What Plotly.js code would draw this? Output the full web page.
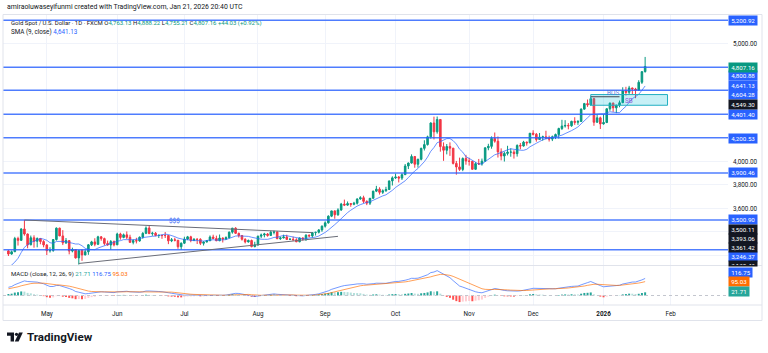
<!DOCTYPE html>
<html>
<head>
<meta charset="utf-8">
<script src="https://cdn.plot.ly/plotly-3.0.1.min.js"></script>
<style>
  html, body { margin: 0; padding: 0; background: #ffffff; }
  #chart { width: 768px; height: 353px; }
</style>
</head>
<body>
<div id="chart"></div>
<script>
// ---------------- data ----------------
const symbolName = 'Gold Spot / U.S. Dollar · 1D · FXCM';
const headerText = 'amiraoluwaseyifunmi created with TradingView.com, Jan 21, 2026 20:40 UTC';
const firstSession = '2025-04-14';
const calendarEnd = '2026-02-27';
const closedDays = ['2025-04-18', '2025-12-25', '2026-01-01'];
const monthLabels = ['May', 'Jun', 'Jul', 'Aug', 'Sep', 'Oct', 'Nov', 'Dec', '2026', 'Feb'];
const priceTicks = [3200, 3400, 3600, 3800, 4000, 4200, 4400, 4600, 4800, 5000, 5200];
const priceTickShown = [3600, 3800, 4000, 5000];

// closes before the first visible session, used to warm up SMA / MACD averages
const priorClose = [
  2658, 2640, 2636, 2649, 2662, 2670, 2690, 2663, 2677, 2696, 2715, 2702, 2708, 2745, 2755, 2755, 2771, 2740, 2763, 2760, 2794, 2798,
  2815, 2842, 2866, 2856, 2861, 2907, 2898, 2904, 2928, 2882, 2898, 2935, 2933, 2939, 2936, 2951, 2914, 2916, 2876, 2858,
  2893, 2918, 2920, 2911, 2910, 2889, 2916, 2934, 2989, 2984, 3001, 3035, 3048, 3044, 3023, 3011, 3020, 3019, 3057, 3085, 3124,
  3113, 3134, 3114, 3037, 2982, 2982, 3082, 3175, 3237
];

// daily OHLC, one row per month (Apr 14 2025 .. Jan 21 2026)
const open = [
  3237, 3211, 3230, 3343, 3327, 3424, 3381, 3289, 3349, 3319, 3343, 3317,
  3288, 3239, 3240, 3334, 3431, 3365, 3306, 3325, 3236, 3249, 3178, 3240, 3203, 3230, 3289, 3314, 3294, 3357, 3342, 3301, 3288, 3317,
  3289, 3381, 3352, 3374, 3353, 3310, 3325, 3322, 3354, 3387, 3432, 3384, 3388, 3369, 3370, 3368, 3368, 3323, 3332, 3328, 3273,
  3303, 3338, 3357, 3326, 3337, 3336, 3302, 3313, 3324, 3355, 3343, 3324, 3347, 3339, 3350, 3397, 3431, 3387, 3368, 3336, 3314, 3326, 3274,
  3289, 3363, 3373, 3381, 3369, 3397, 3398, 3341, 3348, 3356, 3335, 3336, 3332, 3315, 3348, 3339, 3371, 3365, 3393, 3396, 3416,
  3448, 3476, 3533, 3578, 3545, 3586, 3636, 3627, 3640, 3634, 3643, 3679, 3690, 3659, 3644, 3685, 3746, 3763, 3736, 3749, 3760, 3833,
  3859, 3866, 3857, 3886, 3960, 3985, 4041, 3975, 4017, 4110, 4142, 4208, 4326, 4251, 4356, 4125, 4094, 4126, 4112, 3982, 3952, 3931, 4024,
  4002, 4000, 3932, 3980, 3977, 4001, 4115, 4127, 4195, 4171, 4080, 4045, 4067, 4078, 4078, 4065, 4135, 4130, 4163, 4157,
  4239, 4230, 4185, 4206, 4208, 4197, 4189, 4209, 4228, 4279, 4300, 4305, 4302, 4340, 4332, 4339, 4444, 4491, 4480, 4533, 4332, 4370,
  4318, 4330, 4447, 4495, 4455, 4478.43, 4498.61, 4598, 4587, 4624, 4615, 4604.96, 4672.31, 4763.13
];
const high = [
  3245, 3240, 3357, 3358, 3430, 3500.11, 3386, 3368, 3370, 3352, 3345, 3329,
  3294, 3269, 3337, 3437, 3435, 3414, 3347, 3326, 3265, 3253, 3241, 3252, 3250, 3296, 3323, 3345, 3366, 3364, 3350, 3325, 3330, 3326,
  3392, 3392, 3385, 3403, 3375, 3336, 3349, 3360, 3397, 3446, 3451, 3400, 3398, 3376, 3375, 3398, 3369, 3347, 3350, 3330, 3309,
  3358, 3365, 3366, 3345, 3342, 3345, 3318, 3330, 3369, 3375, 3367, 3377, 3352, 3361, 3402, 3433, 3439, 3393, 3373, 3345, 3334, 3334, 3315,
  3366, 3385, 3391, 3390, 3409, 3410, 3405, 3358, 3375, 3375, 3348, 3358, 3345, 3351, 3351, 3379, 3377, 3394, 3399, 3423, 3454,
  3489, 3540, 3579, 3582, 3600, 3646, 3674, 3658, 3645, 3655, 3685, 3703, 3707, 3668, 3688, 3749, 3791, 3779, 3761, 3783, 3835, 3872,
  3895, 3875, 3898, 3977, 3990, 4059, 4045, 4022, 4116, 4179, 4218, 4332, 4380, 4381, 4360, 4161, 4147, 4161, 4113, 4003, 4031, 4033, 4055,
  4030, 4003, 3992, 4020, 4023, 4117, 4149, 4212, 4245, 4211, 4110, 4082, 4132, 4110, 4095, 4144, 4156, 4174, 4168, 4240,
  4264, 4241, 4241, 4218, 4260, 4218, 4219, 4236, 4286, 4353, 4350, 4325, 4345, 4375, 4350, 4450, 4497, 4526, 4549.30, 4540, 4402, 4380,
  4402, 4450, 4500, 4500, 4480, 4517, 4630, 4634, 4642, 4627, 4625, 4690, 4766, 4888.22
];
const low = [
  3194, 3205, 3229, 3283, 3325, 3367, 3260, 3286, 3265, 3268, 3294, 3268,
  3202, 3223, 3230, 3325, 3363, 3287, 3296, 3208, 3225, 3172, 3121, 3153, 3200, 3204, 3279, 3277, 3287, 3324, 3285, 3281, 3245, 3276,
  3287, 3333, 3345, 3338, 3306, 3293, 3301, 3316, 3341, 3380, 3382, 3366, 3362, 3347, 3340, 3347, 3295, 3312, 3318, 3255, 3247,
  3296, 3329, 3311, 3322, 3296, 3287, 3283, 3310, 3321, 3341, 3320, 3320, 3309, 3331, 3343, 3384, 3381, 3351, 3325, 3301, 3308, 3268, 3268,
  3281, 3346, 3353, 3358, 3365, 3378, 3338, 3331, 3343, 3331, 3330, 3323, 3312, 3311, 3325, 3322, 3352, 3351, 3368, 3386, 3400,
  3436, 3470, 3525, 3511, 3536, 3578, 3619, 3621, 3613, 3626, 3632, 3673, 3645, 3627, 3628, 3684, 3738, 3717, 3722, 3741, 3759, 3794,
  3850, 3820, 3841, 3884, 3934, 3980, 3945, 3946, 4008, 4092, 4134, 4193, 4186, 4235, 4082, 4004, 4059, 4046, 3973, 3886, 3918, 3916, 3971,
  3963, 3928, 3929, 3970, 3963, 3996, 4094, 4107, 4158, 4032, 4008, 3998, 4050, 4039, 4023, 4040, 4102, 4125, 4133, 4154,
  4220, 4167, 4184, 4175, 4192, 4168, 4172, 4189, 4194, 4266, 4287, 4272, 4294, 4310, 4310, 4338, 4440, 4463, 4474, 4302, 4330, 4275,
  4312, 4325, 4430, 4421, 4410, 4460, 4495, 4560, 4570, 4572, 4537, 4600, 4658, 4755.21
];
const close = [
  3211, 3230, 3343, 3327, 3424, 3381, 3289, 3349, 3319, 3343, 3317, 3288,
  3239, 3240, 3334, 3431, 3365, 3306, 3325, 3236, 3249, 3178, 3240, 3203, 3230, 3289, 3314, 3294, 3357, 3342, 3301, 3288, 3317, 3289,
  3381, 3352, 3374, 3353, 3310, 3325, 3322, 3354, 3387, 3432, 3384, 3388, 3369, 3370, 3368, 3368, 3323, 3332, 3328, 3273, 3303,
  3338, 3357, 3326, 3337, 3336, 3302, 3313, 3324, 3355, 3343, 3324, 3347, 3339, 3350, 3397, 3431, 3387, 3368, 3336, 3314, 3326, 3274, 3289,
  3363, 3373, 3381, 3369, 3397, 3398, 3341, 3348, 3356, 3335, 3336, 3332, 3315, 3348, 3339, 3371, 3365, 3393, 3396, 3416, 3448,
  3476, 3533, 3578, 3545, 3586, 3636, 3627, 3640, 3634, 3643, 3679, 3690, 3659, 3644, 3685, 3746, 3763, 3736, 3749, 3760, 3833, 3859,
  3866, 3857, 3886, 3960, 3985, 4041, 3975, 4017, 4110, 4142, 4208, 4326, 4251, 4356, 4125, 4094, 4126, 4112, 3982, 3952, 3931, 4024, 4002,
  4000, 3932, 3980, 3977, 4001, 4115, 4127, 4195, 4171, 4080, 4045, 4067, 4078, 4078, 4065, 4135, 4130, 4163, 4157, 4239,
  4230, 4185, 4206, 4208, 4197, 4189, 4209, 4228, 4279, 4300, 4305, 4302, 4340, 4332, 4339, 4444, 4491, 4480, 4533, 4332, 4370, 4318,
  4330, 4447, 4495, 4455, 4478.43, 4498.61, 4598, 4587, 4624, 4615, 4604.96, 4672.31, 4763.13, 4807.16
];

// drawn levels and annotations
const levels = [5200.92, 4800.88, 4604.28, 4401.40, 4200.53, 3900.46, 3500.90, 3246.37];
const upperTrendDates = ['2025-04-22', '2025-08-26'];
const upperTrendPrices = [3500.11, 3393.06];
const lowerTrendDates = ['2025-05-15', '2025-09-05'];
const lowerTrendPrices = [3130.43, 3361.42];
const bosDates = ['2025-12-26', '2026-01-09'];
const bosPrice = 4549.30;
const zoneDates = ['2025-12-26', '2026-01-30'];
const zonePrices = [4477, 4568];
const chartNotes = [
  { text: '$$$', date: '2025-06-26', price: 3492, color: '#3f6cf2' },
  { text: 'BOS', date: '2026-01-07', price: 4584, color: '#5a78d8' },
  { text: 'SB',  date: '2026-01-14', price: 4513, color: '#8d55d6' }
];

// ---------------- calendar ----------------
function sessions(start, end, skip) {
  const out = [];
  const d = new Date(start + 'T00:00:00Z');
  const e = new Date(end + 'T00:00:00Z');
  while (d <= e) {
    const wd = d.getUTCDay();
    const s = d.toISOString().slice(0, 10);
    if (wd !== 0 && wd !== 6 && !skip.includes(s)) out.push(s);
    d.setUTCDate(d.getUTCDate() + 1);
  }
  return out;
}
const calendar = sessions(firstSession, calendarEnd, closedDays);
const N = close.length;
const idx = calendar.slice(0, N).map((_, i) => i);
const at = date => calendar.indexOf(date);

// month ticks: first session of each new month
const monthTicks = [];
for (let i = 1; i < calendar.length; i++) {
  if (calendar[i].slice(5, 7) !== calendar[i - 1].slice(5, 7)) monthTicks.push(i);
}
const tickIdx = monthTicks.slice(0, monthLabels.length);
const tickText = monthLabels.map(t => t === '2026' ? '<b>2026</b>' : t);

// ---------------- indicators ----------------
const allClose = priorClose.concat(close);
const off = priorClose.length;
function ema(src, n) {
  const k = 2 / (n + 1);
  const out = [];
  let e = src[0];
  for (let i = 0; i < src.length; i++) {
    e = i === 0 ? src[0] : src[i] * k + e * (1 - k);
    out.push(e);
  }
  return out;
}
const sma9 = idx.map(i => {
  const j = i + off;
  let s = 0;
  for (let k = j - 8; k <= j; k++) s += allClose[k];
  return s / 9;
});
const e12 = ema(allClose, 12), e26 = ema(allClose, 26);
const macdAll = allClose.map((_, i) => e12[i] - e26[i]);
const sigAll = ema(macdAll, 9);
const macd = macdAll.slice(off);
const signal = sigAll.slice(off);
const histAll = macdAll.map((m, i) => m - sigAll[i]);
const hist = histAll.slice(off);
const histColor = hist.map((h, i) => {
  const prev = histAll[i + off - 1];
  if (h >= 0) return prev < h ? '#26a69a' : '#b2dfdb';
  return prev < h ? '#ffcdd2' : '#ff5252';
});

// ---------------- layout helpers ----------------
const FONT = 'Roboto, "Liberation Sans", sans-serif';
const INK = '#131722';
const L = 3, R = 728, T = 14, B = 305;
const PX = x => (x - L) / (R - L);
const PY = y => (B - y) / (B - T);
const fmt = v => v.toLocaleString('en-US', { minimumFractionDigits: 2, maximumFractionDigits: 2 });

const UP = '#089981', DOWN = '#f23645', BLUE = '#2962ff', ORANGE = '#ff6d00';
const last = N - 1;
const chg = close[last] - close[last - 1];
const chgPct = chg / close[last - 1] * 100;

const annotations = [];
function note(text, xpx, ypx, size, extra) {
  annotations.push(Object.assign({
    xref: 'paper', yref: 'paper', x: PX(xpx), y: PY(ypx),
    xanchor: 'left', yanchor: 'middle', showarrow: false, text: text,
    font: { family: FONT, size: size, color: INK }
  }, extra || {}));
}
const sp = (c, t) => `<span style="color:${c}">${t}</span>`;

note(headerText, 5, 6.8, 6.9);
note(symbolName + ' O' + sp(UP, fmt(open[last])) + ' H' + sp(UP, fmt(high[last])) +
     ' L' + sp(UP, fmt(low[last])) + ' C' + sp(UP, fmt(close[last])) + ' ' +
     sp(UP, (chg >= 0 ? '+' : '') + fmt(chg) + ' (' + (chg >= 0 ? '+' : '') + chgPct.toFixed(2) + '%)'), 9, 22.6, 6.0);
note('SMA (9, close) ' + sp('#2962ff', fmt(sma9[last])), 9, 32.3, 6.3);
note('MACD (close, 12, 26, 9) ' + sp('#26a69a', fmt(hist[last])) + ' ' + sp(BLUE, fmt(macd[last])) + ' ' +
     sp(ORANGE, fmt(signal[last])), 9, 274.3, 6.1);

// price scale value tags
function tag(value, bg, yshift, yref, extra) {
  annotations.push(Object.assign({
    xref: 'paper', x: 1, xanchor: 'left', yref: yref || 'y', y: value, yanchor: 'middle', yshift: yshift,
    text: '&nbsp;' + fmt(value) + '&nbsp;', showarrow: false, bgcolor: bg, borderpad: 0.6,
    font: { family: FONT, size: 6.2, color: '#ffffff' }
  }, extra || {}));
}
const levelShift = { 5200.92: -0.5, 4800.88: -8.8, 4604.28: -4, 4401.40: -0.4, 4200.53: -0.6, 3900.46: 0.3, 3500.90: 0, 3246.37: -6.8 };
levels.forEach(v => tag(v, BLUE, levelShift[v]));
tag(close[last], UP, -1.2);
tag(sma9[last], BLUE, 0);
tag(bosPrice, INK, -8.2);
tag(upperTrendPrices[0], INK, -9.3);
tag(upperTrendPrices[1], INK, -5.7);
tag(lowerTrendPrices[1], INK, -10.9);
// this tag sits at the bottom edge of the price pane and is cut off there
tag(lowerTrendPrices[0], INK, 3, 'y', { yanchor: 'top', height: 3.5, valign: 'top' });
tag(macd[last], BLUE, 5.7, 'y2');
tag(signal[last], ORANGE, 0.6, 'y2');
tag(hist[last], '#26a69a', 0.6, 'y2');

chartNotes.forEach(n => annotations.push({
  xref: 'x', yref: 'y', x: at(n.date), y: n.price, text: n.text, showarrow: false,
  font: { family: FONT, size: 6.4, color: n.color }
}));

// TradingView wordmark
note('<b>TradingView</b>', 24.5, 337, 11.6);

// ---------------- shapes ----------------
const shapes = [];
// horizontal levels
levels.forEach(v => shapes.push({
  type: 'line', xref: 'paper', yref: 'y', x0: 0, x1: 1, y0: v, y1: v, layer: 'above',
  line: { color: 'rgba(41,98,255,0.82)', width: 1.5 }
}));
// triangle trend lines
shapes.push({ type: 'line', xref: 'x', yref: 'y', x0: at(upperTrendDates[0]), x1: at(upperTrendDates[1]),
  y0: upperTrendPrices[0], y1: upperTrendPrices[1], layer: 'above', line: { color: '#6a6d78', width: 1 } });
shapes.push({ type: 'line', xref: 'x', yref: 'y', x0: at(lowerTrendDates[0]), x1: at(lowerTrendDates[1]),
  y0: lowerTrendPrices[0], y1: lowerTrendPrices[1], layer: 'above', line: { color: '#6a6d78', width: 1 } });
// demand zone
shapes.push({ type: 'rect', xref: 'x', yref: 'y', x0: at(zoneDates[0]), x1: at(zoneDates[1]),
  y0: zonePrices[0], y1: zonePrices[1], layer: 'above',
  fillcolor: 'rgba(0,188,212,0.22)', line: { color: '#22b0c2', width: 1 } });
// break of structure
shapes.push({ type: 'line', xref: 'x', yref: 'y', x0: at(bosDates[0]), x1: at(bosDates[1]),
  y0: bosPrice, y1: bosPrice, layer: 'above', line: { color: '#434651', width: 1 } });
// pane separators and frame
shapes.push({ type: 'line', xref: 'paper', yref: 'paper', x0: PX(3), x1: PX(762), y0: PY(265.5), y1: PY(265.5),
  line: { color: '#e0e3eb', width: 1 } });
shapes.push({ type: 'line', xref: 'paper', yref: 'paper', x0: PX(3), x1: PX(762), y0: PY(305), y1: PY(305),
  line: { color: '#e0e3eb', width: 1 } });
shapes.push({ type: 'rect', xref: 'paper', yref: 'paper', x0: PX(3), x1: PX(762), y0: PY(14.5), y1: PY(320.5),
  line: { color: '#e0e3eb', width: 1 } });
// MACD zero line
shapes.push({ type: 'line', xref: 'paper', yref: 'y2', x0: 0, x1: 1, y0: 0, y1: 0,
  line: { color: '#c3c6ce', width: 1, dash: 'dot' } });
// logo mark
const P = (x, y) => PX(x).toFixed(5) + ',' + PY(y).toFixed(5);
shapes.push({ type: 'path', xref: 'paper', yref: 'paper', fillcolor: INK, line: { width: 0 },
  path: `M${P(7, 332.5)} L${P(14, 332.5)} L${P(14, 341.5)} L${P(10.6, 341.5)} L${P(10.6, 335.8)} L${P(7, 335.8)} Z` });
shapes.push({ type: 'circle', xref: 'paper', yref: 'paper', fillcolor: INK, line: { width: 0 },
  x0: PX(14.9), x1: PX(18.1), y0: PY(335.9), y1: PY(332.7) });
shapes.push({ type: 'path', xref: 'paper', yref: 'paper', fillcolor: INK, line: { width: 0 },
  path: `M${P(19, 332.5)} L${P(22.8, 332.5)} L${P(18.6, 341.5)} L${P(14.8, 341.5)} Z` });

// ---------------- traces ----------------
const traces = [
  {
    type: 'candlestick', x: idx, open: open, high: high, low: low, close: close,
    xaxis: 'x', yaxis: 'y', hoverinfo: 'skip',
    increasing: { line: { color: UP, width: 1 }, fillcolor: UP },
    decreasing: { line: { color: DOWN, width: 1 }, fillcolor: DOWN }
  },
  { type: 'scatter', mode: 'lines', x: idx, y: sma9, xaxis: 'x', yaxis: 'y',
    line: { color: 'rgba(41,98,255,0.7)', width: 1 }, hoverinfo: 'skip' },
  { type: 'bar', x: idx, y: hist, xaxis: 'x', yaxis: 'y2', width: 0.62,
    marker: { color: histColor, line: { width: 0 } }, hoverinfo: 'skip' },
  { type: 'scatter', mode: 'lines', x: idx, y: macd, xaxis: 'x', yaxis: 'y2',
    line: { color: 'rgba(41,98,255,0.65)', width: 1 }, hoverinfo: 'skip' },
  { type: 'scatter', mode: 'lines', x: idx, y: signal, xaxis: 'x', yaxis: 'y2',
    line: { color: 'rgba(255,109,0,0.65)', width: 1 }, hoverinfo: 'skip' }
];

const layout = {
  width: 768, height: 353,
  margin: { l: L, r: 768 - R, t: T, b: 353 - B, pad: 0 },
  paper_bgcolor: '#ffffff', plot_bgcolor: '#ffffff',
  showlegend: false, hovermode: false,
  font: { family: FONT, size: 6.3, color: INK },
  xaxis: {
    range: [-1.69, 224.9], anchor: 'y2', tickmode: 'array', tickvals: tickIdx, ticktext: tickText,
    showgrid: true, gridcolor: '#f0f3fa', gridwidth: 1, zeroline: false, showline: false,
    ticks: '', ticklabelstandoff: 4, tickfont: { family: FONT, size: 6.3, color: INK },
    rangeslider: { visible: false }, fixedrange: true
  },
  yaxis: {
    domain: [(B - 265) / (B - T), 1], range: [3117.4, 5253.6], side: 'right',
    tickmode: 'array', tickvals: priceTicks,
    ticktext: priceTicks.map(v => priceTickShown.includes(v) ? fmt(v) : ''),
    showgrid: true, gridcolor: '#f0f3fa', gridwidth: 1, zeroline: false, showline: false,
    ticks: '', ticklabelstandoff: 4, tickfont: { family: FONT, size: 6.3, color: INK }, fixedrange: true
  },
  yaxis2: {
    domain: [0, (B - 266) / (B - T)], range: [-65, 202], side: 'right',
    showticklabels: false, showgrid: false, zeroline: false, showline: false, fixedrange: true
  },
  shapes: shapes,
  annotations: annotations
};

Plotly.newPlot('chart', traces, layout, { displayModeBar: false, staticPlot: true });
</script>
</body>
</html>
